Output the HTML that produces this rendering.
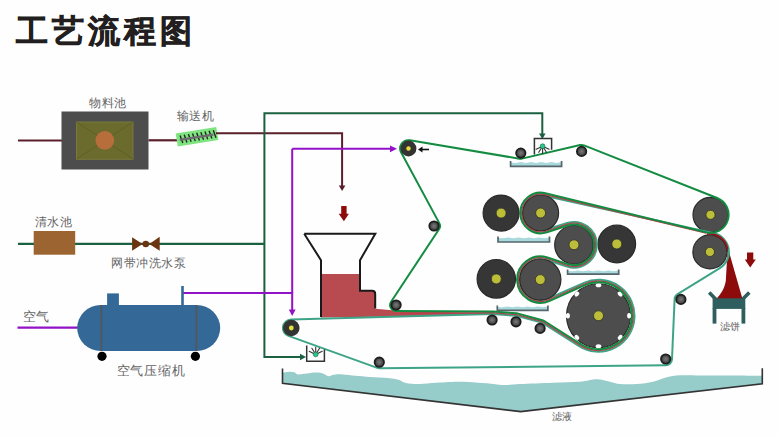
<!DOCTYPE html>
<html><head><meta charset="utf-8"><style>
html,body{margin:0;padding:0;background:#fefefe;}
body{width:779px;height:436px;position:relative;overflow:hidden;font-family:"Liberation Sans",sans-serif;}
.t{position:absolute;white-space:nowrap;color:#646464;font-family:"Liberation Serif",serif;line-height:1;}
#title{position:absolute;left:16px;top:15px;font-size:32px;font-weight:900;color:#231f20;letter-spacing:4.1px;-webkit-text-stroke:0.7px #231f20;line-height:1;white-space:nowrap;}
svg{position:absolute;left:0;top:0;}
</style></head><body>
<svg width="779" height="436" viewBox="0 0 779 436">
<defs><radialGradient id="sg"><stop offset="0" stop-color="#7a7a7a"/><stop offset="1" stop-color="#3a3a3a"/></radialGradient></defs>
<path d="M18,140.5 H62" stroke="#5a1f2a" stroke-width="2.2" fill="none"/>
<rect x="61.5" y="111.5" width="87" height="58" fill="#4d4d4d"/>
<rect x="76.5" y="122" width="56.5" height="37.3" fill="#6c6b2e" stroke="#777a3a" stroke-width="1"/>
<path d="M76.5,122 L133,159 M133,122 L76.5,159" stroke="#5a5a26" stroke-width="0.8"/>
<circle cx="104.8" cy="140.4" r="9.3" fill="#b76e3b"/>
<path d="M148.5,140.3 H177" stroke="#5a1f2a" stroke-width="2.2" fill="none"/>
<g transform="translate(197,136.8) rotate(-9)"><rect x="-20.5" y="-6.6" width="41" height="13.2" fill="#7fe47f"/><path d="M-16.5,-4 L-15.0,4 M-12.3,-4 L-10.8,4 M-8.1,-4 L-6.6,4 M-3.9,-4 L-2.4,4 M0.3,-4 L1.8,4 M4.5,-4 L6.0,4 M8.7,-4 L10.2,4 M12.9,-4 L14.4,4 M17.1,-4 L18.6,4" stroke="#1e2a1e" stroke-width="1.4"/><path d="M-17.5,0.4 H16.5" stroke="#6e6a70" stroke-width="2.4"/></g>
<path d="M216,133.3 H342.1 V188" stroke="#5a1f2a" stroke-width="2" fill="none"/>
<path d="M338.8,185.5 L342.1,191 L345.4,185.5Z" fill="#5a1f2a"/>
<path d="M341.2,206 H346.6 V213.8 H348.9 L343.9,221.3 L338.7,213.8 H341.2Z" fill="#8e0b0b"/>
<path d="M18,243.9 H264.5" stroke="#1b6040" stroke-width="2.2" fill="none"/>
<rect x="33.7" y="231" width="41.5" height="23.7" fill="#9b6431"/>
<path d="M132.1,237.2 L142.6,244 L132.1,250.7Z M159.7,236.8 L149.3,244 L159.7,250.7Z" fill="#6b3512"/><circle cx="145.8" cy="244" r="3.3" fill="#6b3512"/>
<path d="M542.3,137 V113.2 H264.4 V357 H302" stroke="#1b6040" stroke-width="2" fill="none"/>
<path d="M539,133.5 L542.3,139 L545.6,133.5Z" fill="#1b6040"/>
<path d="M300,353.7 L306,357 L300,360.3Z" fill="#1b6040"/>
<path d="M17.5,327.7 H80" stroke="#9212c8" stroke-width="2.2" fill="none"/>
<path d="M183,293 H292.2 V312" stroke="#9212c8" stroke-width="2" fill="none"/>
<path d="M288.8,309.5 L292.2,316 L295.6,309.5Z" fill="#9212c8"/>
<path d="M292.2,148.8 V293" stroke="#9212c8" stroke-width="2" fill="none"/>
<path d="M292.2,148.8 H392" stroke="#9212c8" stroke-width="2" fill="none"/>
<path d="M390,145.4 L397,148.8 L390,152.2Z" fill="#9212c8"/>
<rect x="107.1" y="293.4" width="11.8" height="12" fill="#346997"/>
<rect x="181.2" y="286" width="2.6" height="20" fill="#346997"/>
<rect x="77.2" y="305" width="143" height="46" rx="23.5" ry="23" fill="#346997"/>
<path d="M101.3,305 V351 M196.4,305 V351" stroke="#555" stroke-width="1.6"/>
<circle cx="102" cy="356.3" r="4.6" fill="#000"/><circle cx="195.4" cy="356.3" r="4.6" fill="#000"/>
<path d="M282.5,372.8 C283.6,372.6 287.0,371.8 289.0,371.7 C291.0,371.6 292.9,371.8 294.4,372.2 C295.9,372.6 295.9,374.2 298.0,374.4 C300.1,374.6 304.0,373.8 307.0,373.5 C310.0,373.2 313.3,372.6 316.0,372.6 C318.7,372.6 320.9,372.9 323.0,373.5 C325.1,374.1 326.7,376.0 328.5,376.2 C330.3,376.4 331.6,375.0 334.0,374.7 C336.4,374.4 339.4,374.2 343.0,374.4 C346.6,374.6 351.0,375.4 355.5,375.8 C360.0,376.2 364.6,376.6 370.0,377.0 C375.4,377.4 383.2,377.5 388.0,378.0 C392.8,378.5 395.6,379.0 398.6,379.8 C401.6,380.6 402.2,382.3 405.8,383.0 C409.4,383.7 414.9,384.1 420.0,384.0 C425.1,383.9 429.5,383.1 436.7,382.7 C443.9,382.3 454.7,381.6 463.0,381.7 C471.3,381.8 480.0,382.8 486.7,383.3 C493.4,383.9 497.4,384.9 503.0,385.0 C508.6,385.1 511.7,384.4 520.0,384.0 C528.3,383.6 543.0,383.1 553.0,382.7 C563.0,382.3 572.7,382.3 580.0,381.7 C587.3,381.1 591.7,379.3 596.7,379.3 C601.7,379.3 606.1,380.9 610.0,381.7 C613.9,382.5 615.5,383.6 620.0,384.0 C624.5,384.4 631.2,384.4 636.7,384.0 C642.2,383.6 648.0,382.8 653.0,381.7 C658.0,380.6 662.2,378.4 666.7,377.3 C671.2,376.2 674.5,375.6 680.0,375.3 C685.5,375.0 691.7,375.3 700.0,375.4 C708.3,375.4 719.6,375.5 730.0,375.6 C740.4,375.7 756.9,375.8 762.3,375.8 L762.3,383.8 L520.7,411.6 L282.5,383.4Z" fill="#96ccca"/>
<path d="M282.5,368.4 V383.4 L520.7,411.6 L762.3,383.8 V368.2" stroke="#333" stroke-width="1.6" fill="none"/>
<path d="M321,274 H360 V290.8 H372 Q375.2,290.8 375.2,294 V308.8 L398,310.8 L492,313.3 L492,314.2 L400,316.4 L321,317.6Z" fill="#b84b4f"/>
<path d="M304.2,233.8 H375.3 L360,260.2 V290.8 H372 Q375.2,290.8 375.2,294 V308.4 M304.2,233.8 L321,260.2 V317" stroke="#1a1a1a" stroke-width="2" fill="none" stroke-linejoin="miter"/>
<path d="M510.6,162.6 L515.7,162.9 L520.8,162.1 L525.9,162.9 L531.0,162.1 L536.1,162.9 L541.2,162.1 L546.3,162.9 L551.4,162.1 L556.5,162.9 L561.6,162.1 L561.6,166.3 L510.6,166.3Z" fill="#a8d9dc"/><path d="M510.6,161 L510.6,166.3 L561.6,166.3 L561.6,161" fill="none" stroke="#56666b" stroke-width="1.7"/>
<path d="M498,238.0 L503.1,238.3 L508.3,237.5 L513.5,238.3 L518.6,237.5 L523.8,238.3 L528.9,237.5 L534.0,238.3 L539.2,237.5 L544.4,238.3 L549.5,237.5 L549.5,242 L498,242Z" fill="#a8d9dc"/><path d="M498,236.4 L498,242 L549.5,242 L549.5,236.4" fill="none" stroke="#56666b" stroke-width="1.7"/>
<path d="M567.6,271.0 L572.7,271.3 L577.8,270.5 L582.9,271.3 L588.0,270.5 L593.2,271.3 L598.3,270.5 L603.4,271.3 L608.5,270.5 L613.6,271.3 L618.7,270.5 L618.7,274.2 L567.6,274.2Z" fill="#a8d9dc"/><path d="M567.6,269.4 L567.6,274.2 L618.7,274.2 L618.7,269.4" fill="none" stroke="#56666b" stroke-width="1.7"/>
<path d="M497.3,307.0 L502.4,307.3 L507.4,306.5 L512.5,307.3 L517.5,306.5 L522.6,307.3 L527.7,306.5 L532.7,307.3 L537.8,306.5 L542.8,307.3 L547.9,306.5 L547.9,310.3 L497.3,310.3Z" fill="#a8d9dc"/><path d="M497.3,305.4 L497.3,310.3 L547.9,310.3 L547.9,305.4" fill="none" stroke="#56666b" stroke-width="1.7"/>
<circle cx="501.1" cy="213.1" r="18" fill="#363636" stroke="#2a2a2a" stroke-width="1.2"/><circle cx="501.1" cy="213.1" r="5" fill="#bcbd38" stroke="#2f2f2a" stroke-width="0.8"/>
<circle cx="574.0" cy="244.8" r="19.3" fill="#4d4d4d" stroke="#2a2a2a" stroke-width="1.2"/><circle cx="574.0" cy="244.8" r="5" fill="#bcbd38" stroke="#2f2f2a" stroke-width="0.8"/>
<circle cx="616.8" cy="244.0" r="18.8" fill="#363636" stroke="#2a2a2a" stroke-width="1.2"/><circle cx="616.8" cy="244.0" r="5" fill="#bcbd38" stroke="#2f2f2a" stroke-width="0.8"/>
<circle cx="496.3" cy="278.9" r="19.2" fill="#363636" stroke="#2a2a2a" stroke-width="1.2"/><circle cx="496.3" cy="278.9" r="5" fill="#bcbd38" stroke="#2f2f2a" stroke-width="0.8"/>
<circle cx="598.5" cy="315.75" r="32" fill="#4d4d4d" stroke="#2a2a2a" stroke-width="1.2"/>
<ellipse cx="629.10" cy="315.75" rx="2.8" ry="2" transform="rotate(90 629.10 315.75)" fill="#fff"/>
<ellipse cx="620.14" cy="337.39" rx="2.8" ry="2" transform="rotate(135 620.14 337.39)" fill="#fff"/>
<ellipse cx="598.50" cy="346.35" rx="2.8" ry="2" transform="rotate(180 598.50 346.35)" fill="#fff"/>
<ellipse cx="576.86" cy="337.39" rx="2.8" ry="2" transform="rotate(225 576.86 337.39)" fill="#fff"/>
<ellipse cx="567.90" cy="315.75" rx="2.8" ry="2" transform="rotate(270 567.90 315.75)" fill="#fff"/>
<ellipse cx="576.86" cy="294.11" rx="2.8" ry="2" transform="rotate(315 576.86 294.11)" fill="#fff"/>
<ellipse cx="598.50" cy="285.15" rx="2.8" ry="2" transform="rotate(360 598.50 285.15)" fill="#fff"/>
<ellipse cx="620.14" cy="294.11" rx="2.8" ry="2" transform="rotate(405 620.14 294.11)" fill="#fff"/>
<circle cx="598.5" cy="315.75" r="5" fill="#bcbd38" stroke="#2f2f2a" stroke-width="0.8"/>
<path d="M711,234.2 A18.2,18.2 0 0 1 727.9,248 L742.5,299 L716.5,299 C720.5,294 724.5,289 725.8,281 L727.5,252Z" fill="#8e0b0b"/>
<circle cx="710.5" cy="214.8" r="17.5" fill="#4d4d4d" stroke="#2a2a2a" stroke-width="1.2"/><circle cx="710.5" cy="214.8" r="4.6" fill="#bcbd38" stroke="#2f2f2a" stroke-width="0.8"/>
<circle cx="709.9" cy="251.9" r="17" fill="#4d4d4d" stroke="#2a2a2a" stroke-width="1.2"/><circle cx="709.9" cy="251.9" r="4.6" fill="#bcbd38" stroke="#2f2f2a" stroke-width="0.8"/>
<path d="M291.07,319.60 L491.93,314.00 A6.00,6.00 0 0 1 492.55,314.02 L516.45,315.82 A6.00,6.00 0 0 1 517.58,316.01 L541.68,322.61 A6.00,6.00 0 0 1 543.32,323.34 L579.19,346.13 A36.00,36.00 0 1 0 583.94,282.83 L548.63,298.44 A20.60,20.60 0 1 1 546.56,259.98 L567.07,266.52 A22.80,22.80 0 1 0 567.12,223.06 L545.91,229.78 A17.60,17.60 0 1 1 544.40,195.82 L714.01,233.35 A19.00,19.00 0 0 1 719.84,268.09 L677.60,294.03 A6.30,6.30 0 0 0 674.61,299.13 L671.99,359.27 A6.30,6.30 0 0 1 665.76,365.30 L379.36,368.20 A6.00,6.00 0 0 1 377.27,367.85 L288.46,335.90 A8.40,8.40 0 0 1 291.07,319.60Z" fill="none" stroke="#3ea487" stroke-width="2" stroke-linejoin="round"/>
<circle cx="540.6" cy="213.0" r="18" fill="#4d4d4d" stroke="#2a2a2a" stroke-width="1.2"/><circle cx="540.6" cy="213.0" r="5" fill="#bcbd38" stroke="#2f2f2a" stroke-width="0.8"/>
<circle cx="540.3" cy="279.6" r="20.6" fill="#4d4d4d" stroke="#2a2a2a" stroke-width="1.2"/><circle cx="540.3" cy="279.6" r="5" fill="#bcbd38" stroke="#2f2f2a" stroke-width="0.8"/>
<path d="M400.00,313.50 L492.05,312.80 A7.20,7.20 0 0 1 492.64,312.82 L516.54,314.62 A7.20,7.20 0 0 1 517.90,314.86 L542.00,321.46 A7.20,7.20 0 0 1 543.95,322.31 L579.96,345.08 A34.70,34.70 0 1 0 584.38,284.05 L549.25,299.70 A22.00,22.00 0 1 1 547.19,258.71 L567.24,265.31 A21.60,21.60 0 1 0 567.29,224.27 L546.50,231.06 A19.00,19.00 0 1 1 545.01,194.52 L706.16,232.99" fill="none" stroke="#b8404c" stroke-width="1.4" stroke-linejoin="round"/>
<path d="M707,234.1 A17.9,17.9 0 0 1 727.6,249" fill="none" stroke="#a01018" stroke-width="1.6"/>
<path d="M401.19,152.44 L439.28,223.15 A6.00,6.00 0 0 1 439.00,229.31 L391.10,301.69 A6.00,6.00 0 0 0 396.07,311.00 L492.14,311.50 A8.50,8.50 0 0 1 492.74,311.52 L516.64,313.32 A8.50,8.50 0 0 1 518.25,313.60 L542.35,320.20 A8.50,8.50 0 0 1 544.66,321.23 L580.53,344.02 A33.50,33.50 0 1 0 584.87,285.15 L549.74,300.79 A23.20,23.20 0 1 1 547.46,257.53 L567.74,264.11 A20.30,20.30 0 1 0 567.70,225.50 L546.90,232.30 A20.30,20.30 0 1 1 545.40,193.27 L706.22,232.39 A18.10,18.10 0 0 0 717.15,197.97 L583.99,145.35 A6.50,6.50 0 0 0 580.13,145.07 L521.86,158.64 A6.00,6.00 0 0 1 519.51,158.72 L409.87,140.31 A8.30,8.30 0 0 0 401.19,152.44Z" fill="none" stroke="#138c42" stroke-width="2" stroke-linejoin="round"/>
<circle cx="408.5" cy="148.5" r="7.9" fill="#333"/><circle cx="408.5" cy="148.5" r="2.2" fill="#e6e03a"/>
<circle cx="291.3" cy="328" r="8.3" fill="#333"/><circle cx="291.3" cy="328" r="2.4" fill="#e6e03a"/>
<circle cx="434" cy="226" r="4.7" fill="url(#sg)" stroke="#1e1e1e" stroke-width="1.8"/>
<circle cx="396.1" cy="305" r="4.7" fill="url(#sg)" stroke="#1e1e1e" stroke-width="1.8"/>
<circle cx="492.1" cy="320" r="4.7" fill="url(#sg)" stroke="#1e1e1e" stroke-width="1.8"/>
<circle cx="516" cy="321.8" r="4.7" fill="url(#sg)" stroke="#1e1e1e" stroke-width="1.8"/>
<circle cx="540.1" cy="328.4" r="4.7" fill="url(#sg)" stroke="#1e1e1e" stroke-width="1.8"/>
<circle cx="520.8" cy="153.1" r="4.7" fill="url(#sg)" stroke="#1e1e1e" stroke-width="1.8"/>
<circle cx="581.6" cy="151.4" r="4.7" fill="url(#sg)" stroke="#1e1e1e" stroke-width="1.8"/>
<circle cx="680.9" cy="299.4" r="4.7" fill="url(#sg)" stroke="#1e1e1e" stroke-width="1.8"/>
<circle cx="665.7" cy="359" r="4.7" fill="url(#sg)" stroke="#1e1e1e" stroke-width="1.8"/>
<circle cx="379.3" cy="362.2" r="4.7" fill="url(#sg)" stroke="#1e1e1e" stroke-width="1.8"/>
<path d="M429,149.5 H421" stroke="#111" stroke-width="1.6"/><path d="M422.5,146.5 L418,149.5 L422.5,152.5Z" fill="#111"/>
<path d="M534.4,138.5 V154.4 M551.6,138.5 V149.8 M533.6,138.5 H552.4" stroke="#333" stroke-width="1.5" fill="none"/>
<path d="M540.61,147.13 L536.07,149.24 M541.43,148.07 L538.78,152.31 M542.60,148.40 L542.60,153.40 M543.77,148.07 L546.42,152.31 M544.59,147.13 L549.13,149.24 " stroke="#333" stroke-width="1.1" stroke-linecap="round"/>
<circle cx="542.6" cy="146.2" r="2.4" fill="#27c98b" stroke="#1d5f45" stroke-width="0.6"/>
<path d="M306.7,345.4 V361.3 H324.4 V349.6" stroke="#333" stroke-width="1.5" fill="none"/>
<path d="M313.71,353.47 L309.17,351.36 M314.53,352.53 L311.88,348.29 M315.70,352.20 L315.70,347.20 M316.87,352.53 L319.52,348.29 M317.69,353.47 L322.23,351.36 " stroke="#333" stroke-width="1.1" stroke-linecap="round"/>
<circle cx="315.7" cy="354.4" r="2.4" fill="#27c98b" stroke="#1d5f45" stroke-width="0.6"/>
<path d="M709.2,292.6 L716,299.5 M749.3,292.6 L742.4,299.5" stroke="#2e5e5e" stroke-width="3.6"/>
<rect x="712.6" y="298.3" width="32.7" height="10.6" fill="#2e5e5e"/>
<rect x="712.6" y="308" width="3.8" height="15.6" fill="#2e5e5e"/><rect x="741.5" y="308" width="3.8" height="15.6" fill="#2e5e5e"/>
<path d="M747,252.6 H753.3 V259.5 H755.8 L750.2,267.6 L744.8,259.5 H747Z" fill="#8e0b0b"/>
</svg>
<div id="title">工艺流程图</div>
<div class="t" style="left:89px;top:97px;font-size:12px;letter-spacing:0.5px">物料池</div>
<div class="t" style="left:176.5px;top:110px;font-size:12px;letter-spacing:0.5px">输送机</div>
<div class="t" style="left:34.5px;top:215.5px;font-size:12px;letter-spacing:0.5px">清水池</div>
<div class="t" style="left:111px;top:257px;font-size:12px;letter-spacing:0.6px">网带冲洗水泵</div>
<div class="t" style="left:23px;top:310px;font-size:13px;letter-spacing:0px">空气</div>
<div class="t" style="left:116.5px;top:364px;font-size:13px;letter-spacing:0.8px">空气压缩机</div>
<div class="t" style="left:720px;top:322px;font-size:10px;letter-spacing:0px">滤饼</div>
<div class="t" style="left:551.5px;top:412.5px;font-size:9.5px;letter-spacing:0px">滤液</div>
</body></html>
